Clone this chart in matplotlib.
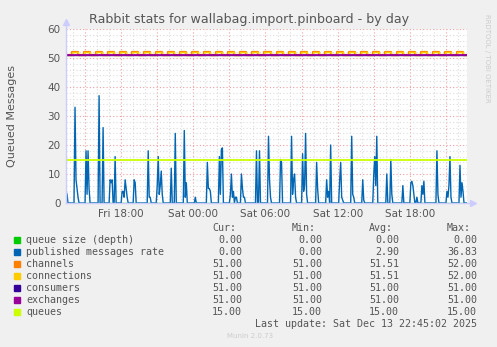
import matplotlib
matplotlib.use("Agg")
import matplotlib.pyplot as plt
import matplotlib.dates as mdates
from matplotlib.patches import Rectangle
from datetime import datetime, timedelta

# ---- data ----
start = datetime(2025, 12, 12, 13, 25)
end = datetime(2025, 12, 13, 22, 45)

# published messages rate: minutes after start, value
pub_minutes = [0, 5, 10, 40, 45, 50, 55, 60, 65,
               95, 100, 105, 110, 115, 120,
               160, 165, 170, 180, 185, 190,
               215, 220, 225, 230, 235, 240, 245, 250,
               275, 280, 285, 290, 295, 300, 305, 310,
               335, 340, 345, 350,
               405, 410, 415, 420, 425,
               450, 455, 460, 465, 470, 475, 480, 485,
               520, 525, 530, 540, 545, 550,
               585, 590, 595, 600, 605,
               640, 645, 650,
               700, 705, 710, 715, 720, 725,
               760, 765, 770, 775, 780, 785,
               815, 820, 825, 830, 835, 840, 845, 850, 855,
               870, 875, 880, 885, 890, 895,
               945, 950, 955, 960, 965, 970,
               1005, 1010, 1015, 1020, 1025,
               1065, 1070, 1075, 1080,
               1120, 1125, 1130, 1135, 1140, 1145, 1150,
               1175, 1180, 1185, 1190, 1195, 1200, 1205,
               1245, 1250, 1255, 1260,
               1295, 1300, 1305, 1310, 1315, 1320, 1325,
               1360, 1365, 1370, 1375, 1380, 1385,
               1420, 1425, 1430, 1435, 1440,
               1475, 1480, 1485, 1490,
               1530, 1535, 1540, 1545, 1550, 1555,
               1595, 1600, 1605, 1615, 1620, 1625, 1630,
               1675, 1680, 1685,
               1715, 1720, 1725, 1730, 1735, 1740, 1745, 1750, 1755,
               1770, 1775, 1780, 1785, 1790,
               1845, 1850, 1855, 1860,
               1895, 1900, 1905, 1910, 1915, 1920, 1925,
               1960, 1965, 1970, 1975, 1980, 1985, 2000]
pub_values = [4, 3, 0, 0, 33, 8, 5, 2, 0,
              0, 18, 3, 18, 5, 0,
              0, 37, 0, 0, 26, 0,
              0, 8, 7, 8, 0, 0, 16, 0,
              0, 4, 4, 2, 8, 5, 2, 0,
              0, 8, 7, 0,
              0, 18, 2, 2, 0,
              0, 6, 16, 3, 6, 11, 3, 0,
              0, 12, 0, 0, 24, 0,
              0, 25, 2, 7, 0,
              0, 2, 0,
              0, 14, 5, 5, 4, 0,
              0, 16, 3, 18.5, 19, 0,
              0, 3, 10, 2, 4, 0, 2, 2, 0,
              0, 10, 5, 2, 2, 0,
              0, 18, 0, 0, 18, 0,
              0, 23, 8, 2, 0,
              0, 15, 14, 0,
              0, 23, 3, 8, 10, 2, 0,
              0, 17, 4, 6, 24, 3, 0,
              0, 14, 5, 0,
              0, 8, 2, 4, 0, 20, 0,
              0, 8, 14, 2, 1, 0,
              0, 23, 3, 2, 0,
              0, 8, 1, 0,
              0, 10, 16, 6, 23, 0,
              0, 10, 0, 0, 15, 3, 0,
              0, 6, 0,
              0, 7, 7.5, 6, 3, 0, 0, 2, 0,
              0, 6, 3, 7.5, 0,
              0, 18, 3, 0,
              0, 4, 2, 6, 16, 2, 0,
              0, 13, 2, 7, 4, 0, 0]

# channels / connections flip between 51 and 52 about once an hour (5 min samples)
conn_cycle = [51, 51, 51, 51, 51, 51, 52, 52, 52, 52, 52, 52]
n_samples = 401
consumers_level = 51
exchanges_level = 51
queues_level = 15
depth_level = 0

legend_names = ["queue size (depth)", "published messages rate", "channels",
                "connections", "consumers", "exchanges", "queues"]
legend_colors = ["#00cc00", "#0066b3", "#ff8000", "#ffcc00", "#330099", "#990099", "#ccff00"]
cur_vals = ["0.00", "0.00", "51.00", "51.00", "51.00", "51.00", "15.00"]
min_vals = ["0.00", "0.00", "51.00", "51.00", "51.00", "51.00", "15.00"]
avg_vals = ["0.00", "2.90", "51.51", "51.51", "51.00", "51.00", "15.00"]
max_vals = ["0.00", "36.83", "52.00", "52.00", "51.00", "51.00", "15.00"]

# ---- figure ----
W, H = 497, 347
fig = plt.figure(figsize=(W / 100, H / 100), dpi=100, facecolor="#f0f0f0")
ax = fig.add_axes([66 / W, 1 - 203 / H, 401 / W, 174 / H])
ax.set_facecolor("white")

sample_t = [start + timedelta(minutes=5 * i) for i in range(n_samples)]
conn_vals = [conn_cycle[i % len(conn_cycle)] for i in range(n_samples)]
pub_t = [start + timedelta(minutes=m) for m in pub_minutes]

ax.plot([start, end], [depth_level] * 2, color=legend_colors[0], lw=1)
ax.plot(pub_t, pub_values, color=legend_colors[1], lw=1)
ax.step(sample_t, conn_vals, where="post", color=legend_colors[2], lw=1.6)
ax.step(sample_t, conn_vals, where="post", color=legend_colors[3], lw=1)
ax.plot([start, end], [consumers_level] * 2, color=legend_colors[4], lw=1)
ax.plot([start, end], [exchanges_level] * 2, color=legend_colors[5], lw=1.3)
ax.plot([start, end], [queues_level] * 2, color=legend_colors[6], lw=1.3)

ax.set_xlim(start, end)
ax.set_ylim(0, 60)

ax.xaxis.set_major_locator(mdates.HourLocator(byhour=[0, 3, 6, 9, 12, 15, 18, 21]))
ax.xaxis.set_minor_locator(mdates.HourLocator(interval=1))


def fmt_hour(x, pos):
    d = mdates.num2date(x)
    if d.hour % 6 != 0:
        return ""
    return d.strftime("%a %H:%M")


ax.xaxis.set_major_formatter(plt.FuncFormatter(fmt_hour))
ax.set_yticks([0, 10, 20, 30, 40, 50, 60])
ax.set_yticks(range(0, 61, 2), minor=True)

ax.grid(which="minor", color="#dcdcdc", ls=(0, (1, 2)), lw=0.8)
ax.grid(which="major", color="#f0a0a0", ls=(0, (1, 2)), lw=0.8)
ax.set_axisbelow(True)
for s in ax.spines.values():
    s.set_visible(False)
ax.tick_params(which="both", length=0, labelsize=7.5, labelcolor="#555555", pad=4)

# axis lines with arrows
ax.plot([0, 0], [0, 1.03], transform=ax.transAxes, color="#ccccff", lw=1, clip_on=False)
ax.plot([0, 1.01], [0, 0], transform=ax.transAxes, color="#ccccff", lw=1, clip_on=False)
ax.plot([0], [1.04], marker="^", ms=4, color="#ccccff", transform=ax.transAxes, clip_on=False)
ax.plot([1.015], [0], marker=">", ms=4, color="#ccccff", transform=ax.transAxes, clip_on=False)

# ---- texts ----
fig.text(249 / W, 1 - 19 / H, "Rabbit stats for wallabag.import.pinboard - by day",
         ha="center", va="center", fontsize=9.1, color="#555555")
fig.text(12 / W, 1 - 116 / H, "Queued Messages", rotation=90, ha="center", va="center",
         fontsize=8, color="#555555")
fig.text(487 / W, 1 - 58 / H, "RRDTOOL / TOBI OETIKER", rotation=270, ha="center", va="center",
         fontsize=5, color="#cccccc")

mono = "DejaVu Sans Mono"
fs = 7.2
tc = "#555555"
cols_x = [242, 322, 399, 477]
headers = ["Cur:", "Min:", "Avg:", "Max:"]
for cx, h in zip(cols_x, headers):
    fig.text((cx - 6) / W, 1 - 228 / H, h, ha="right", va="center", family=mono, fontsize=fs, color=tc)

for i, name in enumerate(legend_names):
    y = 240 + 12 * i
    fig.patches.append(Rectangle((14 / W, 1 - (y + 3) / H), 6 / W, 6 / H,
                                 transform=fig.transFigure, color=legend_colors[i]))
    fig.text(26 / W, 1 - y / H, name, ha="left", va="center", family=mono, fontsize=fs, color=tc)
    for cx, v in zip(cols_x, [cur_vals[i], min_vals[i], avg_vals[i], max_vals[i]]):
        fig.text(cx / W, 1 - y / H, v, ha="right", va="center", family=mono, fontsize=fs, color=tc)

fig.text(477 / W, 1 - 324 / H, "Last update: Sat Dec 13 22:45:02 2025", ha="right", va="center",
         family=mono, fontsize=fs, color=tc)
fig.text(250 / W, 1 - 336 / H, "Munin 2.0.73", ha="center", va="center", fontsize=5, color="#cccccc")

fig.savefig("out.png", dpi=100, facecolor=fig.get_facecolor())
